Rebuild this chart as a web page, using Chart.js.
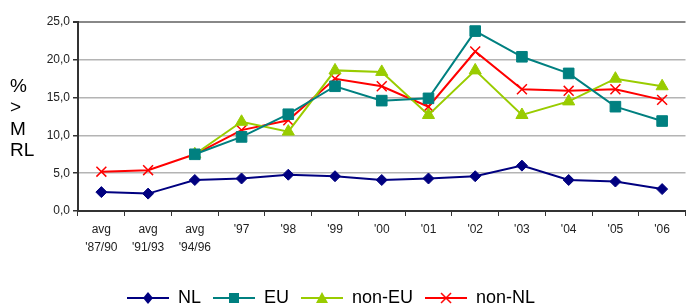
<!DOCTYPE html>
<html><head><meta charset="utf-8">
<script src="https://cdn.jsdelivr.net/npm/chart.js@4/dist/chart.umd.min.js"></script>
<style>html,body{margin:0;padding:0;background:#fff;overflow:hidden}#wrap{width:694px;height:317px}</style>
</head><body><div id="wrap"><canvas id="c" width="694" height="317"></canvas></div>
<script>
const categories = [["avg","'87/90"],["avg","'91/93"],["avg","'94/96"],"'97","'98","'99","'00","'01","'02","'03","'04","'05","'06"];
const nlValues     = [2.5, 2.3, 4.1, 4.3, 4.8, 4.6, 4.1, 4.3, 4.6, 6.0, 4.1, 3.9, 2.9];
const euValues     = [null, null, 7.5, 9.8, 12.8, 16.5, 14.6, 14.9, 23.8, 20.4, 18.2, 13.8, 11.9];
const nonEuValues  = [null, null, 7.5, 11.8, 10.5, 18.6, 18.4, 12.7, 18.6, 12.7, 14.5, 17.5, 16.5];
const nonNlValues  = [5.2, 5.4, 7.5, 10.7, 12.0, 17.5, 16.5, 13.8, 21.1, 16.1, 15.9, 16.1, 14.7];
const yTicks = [0, 5, 10, 15, 20, 25];
const yTitleLines = ["%", ">", "M", "RL"];

const FONT = "'Liberation Sans', Arial, sans-serif";

function legendIcon(color, style) {
  const cv = document.createElement('canvas');
  cv.width = 42; cv.height = 16;
  const g = cv.getContext('2d');
  g.strokeStyle = color; g.lineWidth = 2;
  g.beginPath(); g.moveTo(0, 8); g.lineTo(42, 8); g.stroke();
  g.fillStyle = color;
  const x = 21, y = 8;
  g.beginPath();
  if (style === 'rectRot') { g.moveTo(x, y-6); g.lineTo(x+5, y); g.lineTo(x, y+6); g.lineTo(x-5, y); g.closePath(); g.fill(); }
  else if (style === 'rect') { g.fillRect(x-5, y-5, 10, 10); }
  else if (style === 'triangle') { g.moveTo(x, y-6); g.lineTo(x+6, y+5); g.lineTo(x-6, y+5); g.closePath(); g.fill(); }
  else if (style === 'crossRot') { g.lineWidth = 1.5; g.moveTo(x-5, y-5); g.lineTo(x+5, y+5); g.moveTo(x+5, y-5); g.lineTo(x-5, y+5); g.stroke(); }
  return cv;
}

const series = [
  {label: 'NL', data: nlValues, color: '#000080', style: 'rectRot', r: 5.5, bw: 1},
  {label: 'EU', data: euValues, color: '#008080', style: 'rect', r: 7.5, bw: 1},
  {label: 'non-EU', data: nonEuValues, color: '#99CC00', style: 'triangle', r: 7, bw: 1},
  {label: 'non-NL', data: nonNlValues, color: '#FF0000', style: 'crossRot', r: 7, bw: 1.5}
];

const yTitlePlugin = {
  id: 'yTitle',
  afterLayout(chart) {
    if (chart.legend) { chart.legend.right = chart.legend.right - 32; }
  },
  afterDraw(chart) {
    const ctx = chart.ctx;
    ctx.save();
    ctx.fillStyle = '#000';
    ctx.font = '19px ' + FONT;
    ctx.textAlign = 'left';
    ctx.textBaseline = 'middle';
    const ys = [87, 108, 130, 151];
    yTitleLines.forEach((t, i) => ctx.fillText(t, 10, ys[i]));
    ctx.restore();
  }
};

new Chart(document.getElementById('c'), {
  type: 'line',
  data: {
    labels: categories,
    datasets: series.map(s => ({
      label: s.label, data: s.data,
      borderColor: s.color, backgroundColor: s.color,
      borderWidth: 2, pointStyle: s.style, pointRadius: s.r,
      pointBorderWidth: s.bw, pointBackgroundColor: s.color, pointBorderColor: s.color,
      tension: 0, spanGaps: false
    }))
  },
  options: {
    responsive: false, animation: false,
    layout: {padding: {top: 22, right: 0, left: 0, bottom: 0}},
    plugins: {
      tooltip: {enabled: false},
      legend: {
        position: 'bottom',
        labels: {
          usePointStyle: true, pointStyleWidth: 42, boxHeight: 16,
          font: {family: FONT, size: 18}, color: '#000', padding: 12,
          generateLabels(chart) {
            return series.map((s, i) => ({
              text: s.label, pointStyle: legendIcon(s.color, s.style),
              fillStyle: s.color, strokeStyle: s.color, lineWidth: 0,
              hidden: false, datasetIndex: i, fontColor: '#000'
            }));
          }
        }
      }
    },
    scales: {
      x: {
        offset: true,
        grid: {offset: true, drawOnChartArea: false, drawTicks: true, tickLength: 5, tickColor: '#333', tickWidth: 1},
        border: {color: '#333', width: 2},
        ticks: {font: {family: FONT, size: 12, lineHeight: 1.5}, color: '#222', maxRotation: 0, autoSkip: false, padding: 5},
        afterFit(s) { s.height = 66; }
      },
      y: {
        min: 0, max: 25,
        afterBuildTicks(s) { s.ticks = yTicks.map(v => ({value: v})); },
        grid: {color: ctx => ctx.tick && ctx.tick.value === 25 ? '#888' : '#b4b4b4', lineWidth: ctx => ctx.tick && ctx.tick.value === 25 ? 2 : 1.5, tickLength: 5, tickColor: '#333'},
        border: {color: '#333', width: 2},
        ticks: {font: {family: FONT, size: 12}, color: '#222', padding: 3, callback: v => v.toFixed(1).replace('.', ',')},
        afterFit(s) { s.width = 78; }
      }
    }
  },
  plugins: [yTitlePlugin]
});
</script>
</body></html>
